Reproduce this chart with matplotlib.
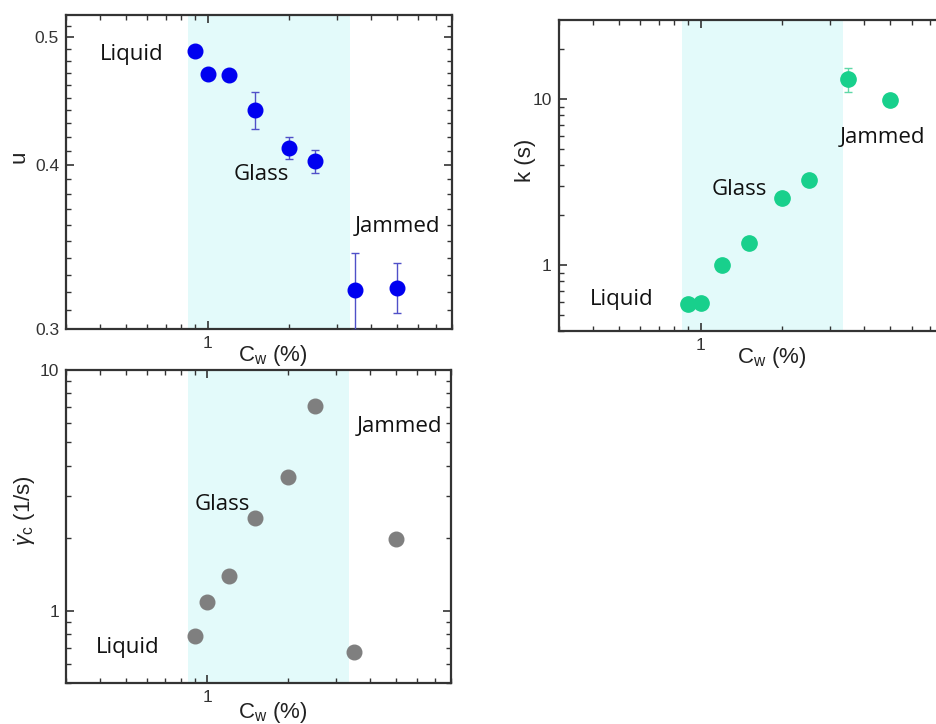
import numpy as np
from matplotlib import pyplot as plt
from matplotlib import ticker


# concentration (%) shared by all three panels
cw = [0.9, 1.0, 1.2, 1.5, 2.0, 2.5, 3.5, 5.0]

u_vals = [0.488, 0.469, 0.468, 0.440, 0.412, 0.4025, 0.321, 0.3225]
u_err = [0.0, 0.003, 0.003, 0.014, 0.008, 0.008, 0.0215, 0.014]

k_vals = [0.58, 0.59, 1.0, 1.36, 2.54, 3.24, 13.3, 9.9]
k_err = [0.0, 0.0, 0.0, 0.06, 0.0, 0.0, 2.2, 0.0]

gdot_vals = [0.784, 1.083, 1.39, 2.43, 3.60, 7.06, 0.673, 1.98]

glass_span = (0.85, 3.35)

NOTE_FONT = 'Open Sans'
SHADE = '#e3fafa'

plt.rcParams['font.family'] = ['Liberation Sans', 'DejaVu Sans']
plt.rcParams['mathtext.fontset'] = 'custom'
plt.rcParams['mathtext.rm'] = 'Liberation Sans'
plt.rcParams['mathtext.it'] = 'Liberation Sans:italic'


def _style_axes(ax, xlim, ylim, ymajor, yminor, ylabels, xlab_pos):
    ax.set_xscale('log')
    ax.set_yscale('log')
    ax.set_xlim(*xlim)
    ax.set_ylim(*ylim)
    ax.xaxis.set_major_locator(ticker.FixedLocator([1]))
    ax.xaxis.set_major_formatter(ticker.FixedFormatter(['1']))
    ax.xaxis.set_minor_locator(ticker.LogLocator(base=10, subs=np.arange(2, 10)))
    ax.xaxis.set_minor_formatter(ticker.NullFormatter())
    ax.yaxis.set_major_locator(ticker.FixedLocator(ymajor))
    ax.yaxis.set_major_formatter(ticker.FixedFormatter(ylabels))
    ax.yaxis.set_minor_locator(ticker.FixedLocator(yminor))
    ax.yaxis.set_minor_formatter(ticker.NullFormatter())
    ax.tick_params(which='both', direction='in', top=True, right=True,
                   colors='#333333', labelcolor='#333333')
    ax.tick_params(which='major', length=6, width=1.2, labelsize=12.5, pad=5)
    ax.tick_params(which='minor', length=3.5, width=1.0)
    for sp in ax.spines.values():
        sp.set_linewidth(1.6)
        sp.set_color('#333333')
    ax.axvspan(*glass_span, color=SHADE, zorder=0, lw=0)
    ax.set_xlabel(r'C$_\mathregular{w}$ (%)', fontsize=16, color='#222222')
    ax.xaxis.set_label_coords(*xlab_pos)


def _notes(ax, notes):
    for txt, x, y in notes:
        ax.text(x, y, txt, ha='left', va='center', fontsize=16,
                family=NOTE_FONT, color='#111111')


fig = plt.figure(figsize=(9.36, 7.24), dpi=100)

# --- u panel -------------------------------------------------------------
ax1 = fig.add_axes([0.0705, 0.5456, 0.4124, 0.4337])
_style_axes(ax1, (0.3, 8.0), (0.3, 0.52), [0.3, 0.4, 0.5],
            np.round(np.arange(0.31, 0.52, 0.01), 2), ['0.3', '0.4', '0.5'],
            (0.536, -0.045))
ax1.errorbar(cw, u_vals, yerr=u_err, fmt='o', color='#0000f0', ms=10.5,
             ecolor='#5050c8', elinewidth=1.0, capsize=3, capthick=1.0, zorder=3)
ax1.set_ylabel('u', fontsize=16, color='#222222')
ax1.yaxis.set_label_coords(-0.094, 0.548)
_notes(ax1, [('Liquid', 0.40, 0.485), ('Glass', 1.25, 0.393),
             ('Jammed', 3.49, 0.359)])

# --- k panel -------------------------------------------------------------
ax2 = fig.add_axes([0.597, 0.5428, 0.4135, 0.4296])
k_minor = [0.4, 0.5, 0.6, 0.7, 0.8, 0.9, 2, 3, 4, 5, 6, 7, 8, 9, 20]
_style_axes(ax2, (0.3, 8.0), (0.4, 30), [1, 10], k_minor, ['1', '10'],
            (0.55, -0.045))
ax2.errorbar(cw, k_vals, yerr=k_err, fmt='o', color='#18d08c', ms=11,
             ecolor='#5fd8a8', elinewidth=1.0, capsize=3, capthick=1.0, zorder=3)
ax2.set_ylabel('k (s)', fontsize=16, color='#222222')
ax2.yaxis.set_label_coords(-0.06, 0.55)
_notes(ax2, [('Liquid', 0.39, 0.623), ('Glass', 1.10, 2.85),
             ('Jammed', 3.24, 5.84)])

# --- critical shear rate panel --------------------------------------------
ax3 = fig.add_axes([0.0705, 0.0566, 0.4113, 0.4324])
g_minor = [0.5, 0.6, 0.7, 0.8, 0.9, 2, 3, 4, 5, 6, 7, 8, 9]
_style_axes(ax3, (0.3, 8.0), (0.5, 10), [1, 10], g_minor, ['1', '10'],
            (0.537, -0.055))
ax3.plot(cw, gdot_vals, 'o', color='#7f7f7f', ms=10.5, zorder=3)
ax3.set_ylabel(r'$\dot{\gamma}_\mathregular{c}$ (1/s)', fontsize=16,
               color='#222222')
ax3.yaxis.set_label_coords(-0.072, 0.55)
_notes(ax3, [('Liquid', 0.387, 0.704), ('Glass', 0.90, 2.77),
             ('Jammed', 3.57, 5.83)])

fig.savefig('out.png', dpi=100)
